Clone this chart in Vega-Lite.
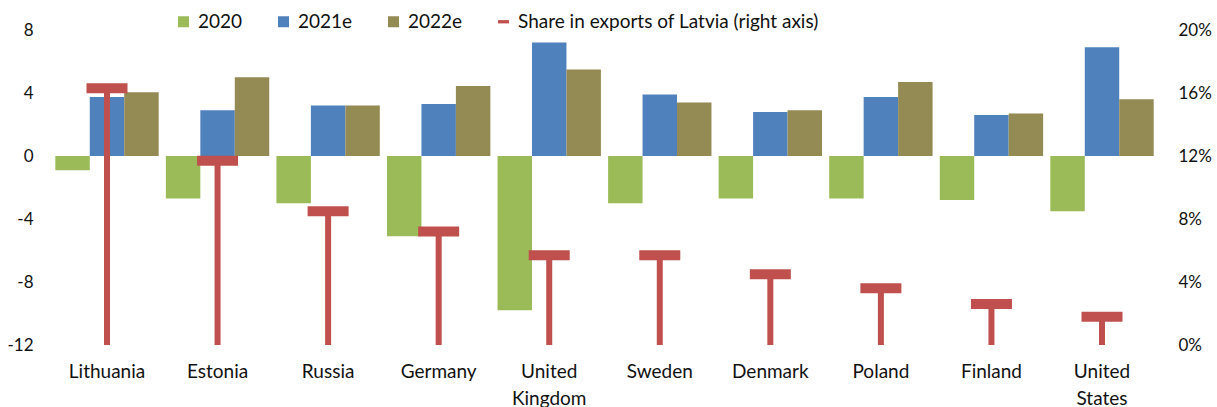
{
  "$schema": "https://vega.github.io/schema/vega-lite/v6.json",
  "autosize": {"type": "none"},
  "padding": {"left": 52, "top": 30, "right": 60, "bottom": 62},
  "width": 1105,
  "height": 315,
  "config": {
    "font": "Lato",
    "view": {"stroke": null},
    "axis": {"domain": false, "ticks": false, "grid": false, "labelFontSize": 17, "labelColor": "#111111", "title": null}
  },
  "datasets": {
    "bars": [
      {"country": "Lithuania", "series": "2020", "value": -0.9},
      {"country": "Lithuania", "series": "2021e", "value": 3.75},
      {"country": "Lithuania", "series": "2022e", "value": 4.05},
      {"country": "Estonia", "series": "2020", "value": -2.7},
      {"country": "Estonia", "series": "2021e", "value": 2.9},
      {"country": "Estonia", "series": "2022e", "value": 5.0},
      {"country": "Russia", "series": "2020", "value": -3.0},
      {"country": "Russia", "series": "2021e", "value": 3.2},
      {"country": "Russia", "series": "2022e", "value": 3.2},
      {"country": "Germany", "series": "2020", "value": -5.1},
      {"country": "Germany", "series": "2021e", "value": 3.3},
      {"country": "Germany", "series": "2022e", "value": 4.45},
      {"country": "United Kingdom", "series": "2020", "value": -9.8},
      {"country": "United Kingdom", "series": "2021e", "value": 7.2},
      {"country": "United Kingdom", "series": "2022e", "value": 5.5},
      {"country": "Sweden", "series": "2020", "value": -3.0},
      {"country": "Sweden", "series": "2021e", "value": 3.9},
      {"country": "Sweden", "series": "2022e", "value": 3.4},
      {"country": "Denmark", "series": "2020", "value": -2.7},
      {"country": "Denmark", "series": "2021e", "value": 2.8},
      {"country": "Denmark", "series": "2022e", "value": 2.9},
      {"country": "Poland", "series": "2020", "value": -2.7},
      {"country": "Poland", "series": "2021e", "value": 3.75},
      {"country": "Poland", "series": "2022e", "value": 4.7},
      {"country": "Finland", "series": "2020", "value": -2.8},
      {"country": "Finland", "series": "2021e", "value": 2.6},
      {"country": "Finland", "series": "2022e", "value": 2.7},
      {"country": "United States", "series": "2020", "value": -3.5},
      {"country": "United States", "series": "2021e", "value": 6.9},
      {"country": "United States", "series": "2022e", "value": 3.6}
    ],
    "shares": [
      {"country": "Lithuania", "share": 0.163},
      {"country": "Estonia", "share": 0.117},
      {"country": "Russia", "share": 0.085},
      {"country": "Germany", "share": 0.072},
      {"country": "United Kingdom", "share": 0.057},
      {"country": "Sweden", "share": 0.057},
      {"country": "Denmark", "share": 0.045},
      {"country": "Poland", "share": 0.036},
      {"country": "Finland", "share": 0.026},
      {"country": "United States", "share": 0.018}
    ]
  },
  "encoding": {
    "x": {
      "field": "country", "type": "nominal", "sort": null,
      "scale": {"paddingInner": 0.065, "paddingOuter": 0.03},
      "axis": {"labelAngle": 0, "labelPadding": 17, "labelFontSize": 19, "labelLineHeight": 27, "labelExpr": "split(datum.label, ' ')"}
    }
  },
  "layer": [
    {
      "data": {"name": "bars"},
      "layer": [
        {
          "mark": {"type": "bar"},
          "encoding": {
            "xOffset": {"field": "series", "type": "nominal", "scale": {"paddingInner": 0, "paddingOuter": 0}},
            "y": {
              "field": "value", "type": "quantitative",
              "scale": {"domain": [-12, 8], "nice": false, "zero": false},
              "axis": {"orient": "left", "values": [-12, -8, -4, 0, 4, 8], "labelPadding": 19, "labelExpr": "replace(datum.label, '\u2212', '-')"}
            },
            "color": {
              "field": "series", "type": "nominal",
              "scale": {
                "domain": ["2020", "2021e", "2022e", "Share in exports of Latvia (right axis)"],
                "range": ["#9BBB59", "#4F81BD", "#948A54", "#C0504D"]
              },
              "legend": {
                "title": null, "orient": "none", "direction": "horizontal",
                "legendX": 122, "legendY": -18,
                "labelFontSize": 19, "labelColor": "#111111", "labelLimit": 0,
                "symbolSize": 121, "symbolType": "square", "labelOffset": 5, "columnPadding": 31,
                "symbolStrokeWidth": 0,
                "encode": {
                  "symbols": {
                    "update": {
                      "shape": {"signal": "datum.value === 'Share in exports of Latvia (right axis)' ? 'M-1,-0.3H1V0.3H-1Z' : 'square'"},
                      "fill": {"scale": "color", "field": "value"},
                      "strokeWidth": {"value": 0}
                    }
                  }
                }
              }
            }
          }
        },
        {
          "mark": {"type": "rule", "color": "#BFBFBF", "strokeWidth": 2},
          "encoding": {"y": {"datum": 0, "type": "quantitative"}}
        }
      ]
    },
    {
      "data": {"name": "shares"},
      "layer": [
        {
          "mark": {"type": "rule", "strokeWidth": 6},
          "encoding": {
            "y": {
              "field": "share", "type": "quantitative",
              "scale": {"domain": [0, 0.2], "nice": false},
              "axis": {"orient": "right", "values": [0, 0.04, 0.08, 0.12, 0.16, 0.2], "format": ".0%", "labelPadding": 21}
            },
            "y2": {"datum": 0},
            "color": {"datum": "Share in exports of Latvia (right axis)"}
          }
        },
        {
          "mark": {"type": "tick", "size": 41, "thickness": 10, "opacity": 1},
          "encoding": {
            "y": {"field": "share", "type": "quantitative"},
            "color": {"datum": "Share in exports of Latvia (right axis)"}
          }
        }
      ]
    }
  ],
  "resolve": {"scale": {"y": "independent"}, "axis": {"y": "independent"}}
}
